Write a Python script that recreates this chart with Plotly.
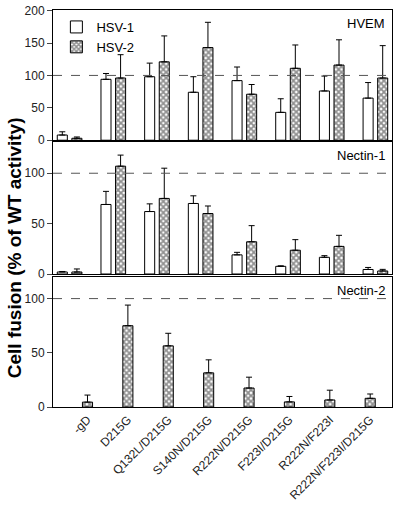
import plotly.graph_objects as go

categories = ["-gD", "D215G", "Q132L/D215G", "S140N/D215G", "R222N/D215G",
              "F223I/D215G", "R222N/F223I", "R222N/F223I/D215G"]

# HVEM
hvem_hsv1 = [8, 94, 98, 74, 92, 43, 76, 65]
hvem_hsv1_err = [5, 9, 21, 24, 21, 21, 23, 24]
hvem_hsv2 = [3, 96, 121, 143, 71, 111, 116, 96]
hvem_hsv2_err = [2, 36, 40, 39, 15, 36, 39, 50]

# Nectin-1
n1_hsv1 = [2, 69, 62, 70, 19, 7.6, 16.6, 4.5]
n1_hsv1_err = [0.5, 13, 7.6, 7.6, 2.5, 0.5, 1.6, 2]
n1_hsv2 = [2, 107, 75, 60, 32, 23.6, 27.4, 3]
n1_hsv2_err = [3, 11, 30, 7.5, 16, 10.5, 11, 1.6]

# Nectin-2
n2_hsv2 = [4.5, 75, 56.4, 31.5, 17.5, 4.7, 6.5, 8]
n2_hsv2_err = [6.5, 19, 11.6, 12, 10, 5, 9, 4]

FONT = "Liberation Sans, Arial, sans-serif"
pattern = dict(shape="x", size=4, solidity=0.7, fgcolor="#222", bgcolor="white")


def err(vals):
    return dict(type="data", symmetric=False, array=vals, arrayminus=[0] * len(vals),
                width=3, thickness=1, color="black")


fig = go.Figure()

# Top panel
fig.add_trace(go.Bar(x=categories, y=hvem_hsv1, error_y=err(hvem_hsv1_err), name="HSV-1",
                     width=0.23, offset=-0.282, marker=dict(color="white", line=dict(color="black", width=1)),
                     xaxis="x", yaxis="y", legendgroup="a"))
fig.add_trace(go.Bar(x=categories, y=hvem_hsv2, error_y=err(hvem_hsv2_err), name="HSV-2",
                     width=0.23, offset=0.052, marker=dict(color="white", pattern=pattern, line=dict(color="black", width=1)),
                     xaxis="x", yaxis="y", legendgroup="b"))
# Middle panel
fig.add_trace(go.Bar(x=categories, y=n1_hsv1, error_y=err(n1_hsv1_err), name="HSV-1", showlegend=False,
                     width=0.23, offset=-0.282, marker=dict(color="white", line=dict(color="black", width=1)),
                     xaxis="x2", yaxis="y2"))
fig.add_trace(go.Bar(x=categories, y=n1_hsv2, error_y=err(n1_hsv2_err), name="HSV-2", showlegend=False,
                     width=0.23, offset=0.052, marker=dict(color="white", pattern=pattern, line=dict(color="black", width=1)),
                     xaxis="x2", yaxis="y2"))
# Bottom panel
fig.add_trace(go.Bar(x=categories, y=n2_hsv2, error_y=err(n2_hsv2_err), name="HSV-2", showlegend=False,
                     width=0.25, marker=dict(color="white", pattern=pattern, line=dict(color="black", width=1)),
                     xaxis="x3", yaxis="y3"))

axis_common = dict(showline=True, linecolor="black", linewidth=1, mirror=True,
                   tickfont=dict(family=FONT, size=12, color="#222"), showgrid=False, zeroline=False,
                   ticklabeloverflow="allow")

fig.update_layout(
    width=400, height=506,
    margin=dict(l=53, r=8, t=4, b=89),
    paper_bgcolor="white", plot_bgcolor="white",
    barmode="overlay",
    font=dict(family=FONT, size=12, color="black"),
    xaxis=dict(domain=[0, 1], anchor="y", range=[-0.38, 7.38], showticklabels=False, ticks="", **axis_common),
    xaxis2=dict(domain=[0, 1], anchor="y2", range=[-0.38, 7.38], showticklabels=False, ticks="", **axis_common),
    xaxis3=dict(domain=[0, 1], anchor="y3", range=[-0.854, 7.54], tickangle=-45, ticks="", **axis_common),
    yaxis=dict(domain=[0.672, 1.0], anchor="x", range=[0, 201], tickvals=[0, 50, 100, 150, 200],
               ticks="outside", ticklen=5, **axis_common),
    yaxis2=dict(domain=[0.335, 0.6675], anchor="x2", range=[0, 131], tickvals=[0, 50, 100],
                ticks="outside", ticklen=5, **axis_common),
    yaxis3=dict(domain=[0, 0.3277], anchor="x3", range=[0, 120], tickvals=[0, 50, 100],
                ticks="outside", ticklen=5, **axis_common),
    legend=dict(x=0.01, y=0.995, xanchor="left", yanchor="top", bgcolor="rgba(0,0,0,0)",
                font=dict(family=FONT, size=13), tracegroupgap=0, itemwidth=30),
    showlegend=True,
)

for xa, ya in [("x", "y"), ("x2", "y2"), ("x3", "y3")]:
    fig.add_shape(type="line", xref=f"{xa} domain", yref=ya, x0=0, x1=1, y0=100, y1=100,
                  line=dict(color="#555", width=1, dash="dash"))

for xa, ya, txt in [("x", "y", "HVEM"), ("x2", "y2", "Nectin-1"), ("x3", "y3", "Nectin-2")]:
    fig.add_annotation(xref=f"{xa} domain", yref=f"{ya} domain", x=0.985, y=0.97, text=txt,
                       showarrow=False, xanchor="right", yanchor="top",
                       font=dict(family=FONT, size=13, color="black"))

fig.add_annotation(xref="paper", yref="paper", x=-0.115, y=0.40, text="<b>Cell fusion (% of WT activity)</b>",
                   textangle=-90, showarrow=False, xanchor="center", yanchor="middle",
                   font=dict(family=FONT, size=19, color="black"))

fig.write_html("out.html", config={"displayModeBar": False},
               post_script="document.body.style.margin='0px';document.body.style.overflow='hidden';")
